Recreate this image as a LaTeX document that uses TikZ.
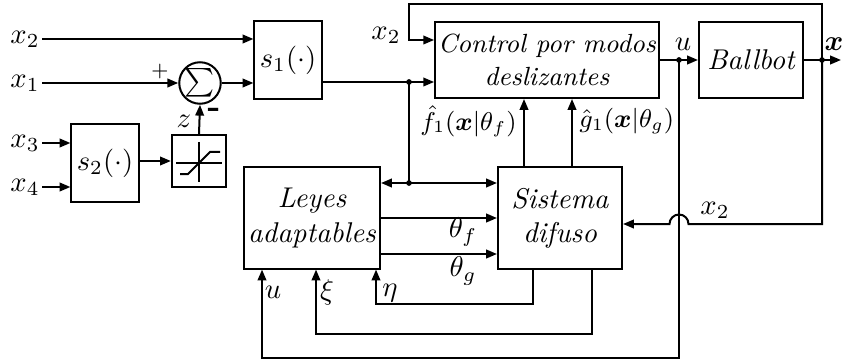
\documentclass[tikz,border=0pt]{standalone}
\usepackage{amsmath}
\usepackage{tikz}
\usetikzlibrary{positioning, arrows.meta}

\begin{document}
\begin{tikzpicture}[
    x=0.35pt, y=-0.35pt,
    line width=0.7pt,
    >={Triangle[length=3.8pt, width=3pt]},
    blk/.style={draw, inner sep=1pt, align=center, font=\itshape},
    lbl/.style={inner sep=0.5pt},
  ]
  \useasboundingbox (0,0) rectangle (844,360);
  % blocks
  \node[blk, minimum width=23.5pt, minimum height=27pt] (s1) at (288,60) {$s_1(\cdot)$};
  \node[blk, minimum width=23.5pt, minimum height=27pt] (s2) at (105,163) {$s_2(\cdot)$};
  \node[draw, circle, minimum size=14.4pt, inner sep=0pt] (sum) at (200,83) {$\sum$};
  \node[draw, minimum width=19pt, minimum height=18.2pt] (sat) at (199,161) {};
  \node[blk, minimum width=77.7pt, minimum height=26.6pt, font=\fontsize{9.2}{11.5}\selectfont\itshape] (ctrl) at (547,60) {Control por modos\\deslizantes};
  \node[blk, minimum width=36.4pt, minimum height=26.6pt] (ball) at (751,60) {Ballbot};
  \node[blk, minimum width=47.6pt, minimum height=35.4pt] (leyes) at (312,218) {Leyes\\adaptables};
  \node[blk, minimum width=43.4pt, minimum height=35.4pt] (sist) at (560,218) {Sistema\\difuso};
  % saturation symbol
  \draw (176,163) -- (222,163) (199,142) -- (199,182);
  \draw (180,174) -- (188,174) -- (210,152) -- (220,152);
  % inputs
  \node[lbl, anchor=east] (ix2) at (42,39) {$x_2$};
  \node[lbl, anchor=east] (ix1) at (42,83) {$x_1$};
  \node[lbl, anchor=east] (ix3) at (42,143) {$x_3$};
  \node[lbl, anchor=east] (ix4) at (42,187) {$x_4$};
  % junctions
  \coordinate (j1) at (409,82);
  \coordinate (j2) at (409,183);
  \coordinate (ju) at (679,60);
  \coordinate (jx) at (822,60);
  \coordinate (out) at (841,60);
  \coordinate (lp) at (409,4);
  \coordinate (h2) at (409,40);
  \coordinate (jr) at (688.5,224);
  \coordinate (bu) at (262,358);
  \coordinate (bxi) at (316,334);
  \coordinate (beta) at (376,304);
  % connectors
  \draw[->] (ix2) -- (ix2 -| s1.west);
  \draw[->] (ix1) -- (sum.west);
  \draw[->] (ix3) -- (ix3 -| s2.west);
  \draw[->] (ix4) -- (ix4 -| s2.west);
  \draw[->] (sum) -- (sum -| s1.west);
  \draw[->] (s2.east |- sat) -- (sat.west);
  \draw[->] (sat.north) -- (sum.south);
  \draw[->] (s1.east |- j1) -- (j1 -| ctrl.west);
  \draw (j1) -- (j2);
  \draw[->] (j2) -- (j2 -| leyes.east);
  \draw[->] (j2) -- (j2 -| sist.west);
  \draw[->] (jx) |- (lp) -- (h2) -- (h2 -| ctrl.west);
  \draw[->] (ctrl.east) -- (ball.west);
  \draw[->] (ball.east) -- (out);
  \draw[->] (jx) |- (jr) arc[start angle=0, end angle=-180, radius=9.5] -- (jr -| sist.east);
  \draw[->] (ju) |- (bu) -- (leyes.south -| bu);
  \draw[->] (sist.south) ++(32,0) |- (bxi) -- (leyes.south -| bxi);
  \draw[->] (sist.south) ++(-27,0) |- (beta) -- (leyes.south -| beta);
  \draw[->] (sist.north) ++(-36,0) coordinate (fa) -- (fa |- ctrl.south);
  \draw[->] (sist.north) ++(12,0) coordinate (ga) -- (ga |- ctrl.south);
  \draw[->] (leyes.east) -- (leyes.east -| sist.west);
  \draw[->] (leyes.east) ++(0,36) coordinate (tg) -- (tg -| sist.west);
  \foreach \p in {j1,j2,ju,jx}
    \fill (\p) circle[radius=1pt];
  % labels
  \node[lbl, font=\scriptsize] (lplus) at (160,72) {$+$};
  \node[lbl, font=\large\bfseries] (lminus) at (214,113) {-};
  \node[lbl] (lz) at (184,121) {$z$};
  \node[lbl] (lx2a) at (386,35) {$x_2$};
  \node[lbl, anchor=east, font=\small] (lf) at (519,121) {$\hat{f}_1(\boldsymbol{x}|\theta_f)$};
  \node[lbl, anchor=west, font=\small] (lg) at (577,121) {$\hat{g}_1(\boldsymbol{x}|\theta_g)$};
  \node[lbl] (lu) at (683,44) {$u$};
  \node[lbl] (lx) at (834,44) {$\boldsymbol{x}$};
  \node[lbl] (ltf) at (463,232) {$\theta_f$};
  \node[lbl] (ltg) at (463,271) {$\theta_g$};
  \node[lbl] (lx2b) at (715,210) {$x_2$};
  \node[lbl] (lub) at (273,292) {$u$};
  \node[lbl] (lxi) at (327,292) {$\xi$};
  \node[lbl] (leta) at (390,293) {$\eta$};
\end{tikzpicture}
\end{document}
